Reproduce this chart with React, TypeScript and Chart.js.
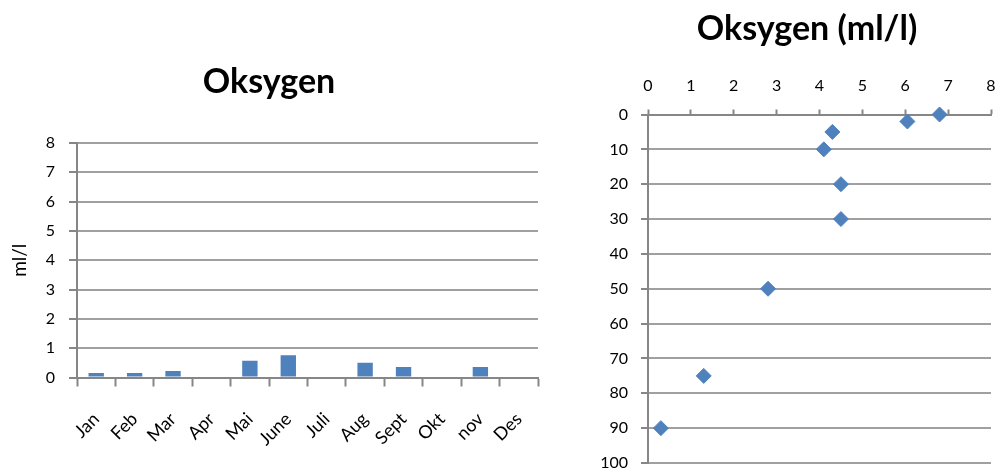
import React, { useEffect, useRef } from 'react';
import { Chart, registerables } from 'chart.js';

Chart.register(...registerables);

// ---- data ----
const months = ['Jan', 'Feb', 'Mar', 'Apr', 'Mai', 'June', 'Juli', 'Aug', 'Sept', 'Okt', 'nov', 'Des'];
const monthlyOxygen: (number | null)[] = [0.15, 0.15, 0.22, null, 0.57, 0.76, null, 0.5, 0.36, null, 0.36, null];
const oxygenAtDepth = [6.8, 6.05, 4.3, 4.1, 4.5, 4.5, 2.8, 1.3, 0.3];
const depths = [0, 2, 5, 10, 20, 30, 50, 75, 90];
const leftTitle = 'Oksygen';
const rightTitle = 'Oksygen (ml/l)';
const leftAxisTitle = 'ml/l';

const BLUE = '#4F81BD';
const GRID = '#a0a0a0';
const AXIS = '#868686';
const FONT = 'Lato, "Open Sans", sans-serif';

const makeTitlePlugin = (text: string, cx: number, baseline: number) => ({
  id: 'customTitle',
  afterDraw(chart: any) {
    const ctx = chart.ctx as CanvasRenderingContext2D;
    ctx.save();
    ctx.font = `bold 34px ${FONT}`;
    ctx.fillStyle = '#000';
    ctx.textAlign = 'center';
    ctx.textBaseline = 'alphabetic';
    ctx.fillText(text, cx, baseline);
    ctx.restore();
  },
});

export default function App() {
  const leftRef = useRef<HTMLCanvasElement | null>(null);
  const rightRef = useRef<HTMLCanvasElement | null>(null);

  useEffect(() => {
    const tickFont = { family: FONT, size: 16 };
    const monthFont = { family: FONT, size: 18 };
    const axisTitleFont = { family: FONT, size: 19 };

    const left = new Chart(leftRef.current!, {
      type: 'bar',
      data: {
        labels: months,
        datasets: [
          {
            data: monthlyOxygen,
            backgroundColor: BLUE,
            borderWidth: 0,
            categoryPercentage: 1,
            barPercentage: 0.4,
          },
        ],
      },
      plugins: [makeTitlePlugin(leftTitle, 269, 93)],
      options: {
        responsive: false,
        animation: false,
        layout: { padding: { left: 0, right: 2, top: 143, bottom: 0 } },
        plugins: {
          legend: { display: false },
          tooltip: { enabled: false },
          title: { display: false },
        },
        scales: {
          x: {
            grid: {
              display: true,
              drawOnChartArea: false,
              drawTicks: true,
              tickLength: 9,
              tickColor: AXIS,
              tickWidth: 2,
              offset: true,
            },
            border: { color: AXIS, width: 2 },
            ticks: {
              color: '#000',
              font: monthFont,
              maxRotation: 45,
              minRotation: 45,
              padding: 22,
              autoSkip: false,
            },
            afterFit: (s: any) => {
              s.height = 97.5;
              s.paddingLeft = 0;
              s.paddingRight = 0;
            },
          },
          y: {
            min: 0,
            max: 8,
            ticks: { stepSize: 1, color: '#000', font: tickFont, padding: 14 },
            grid: { color: GRID, lineWidth: 2, tickLength: 8, tickColor: AXIS, tickWidth: 2 },
            border: { color: AXIS, width: 2 },
            title: {
              display: true,
              text: leftAxisTitle,
              color: '#000',
              font: axisTitleFont,
              padding: { top: 8, bottom: 0 },
            },
            afterFit: (s: any) => {
              s.width = 77;
              s.paddingTop = 0;
              s.paddingBottom = 0;
            },
          },
        },
      },
    });

    const right = new Chart(rightRef.current!, {
      type: 'scatter',
      data: {
        datasets: [
          {
            data: depths.map((d, i) => ({ x: oxygenAtDepth[i], y: d })),
            backgroundColor: BLUE,
            borderColor: BLUE,
            borderWidth: 1,
            pointStyle: 'rectRot',
            pointRadius: 7.5,
            clip: false,
          } as any,
        ],
      },
      plugins: [makeTitlePlugin(rightTitle, 227, 40)],
      options: {
        responsive: false,
        animation: false,
        layout: { padding: { left: 0, right: 9, top: 49, bottom: 12 } },
        plugins: {
          legend: { display: false },
          tooltip: { enabled: false },
          title: { display: false },
        },
        scales: {
          x: {
            type: 'linear',
            position: 'top',
            min: 0,
            max: 8,
            ticks: { stepSize: 1, color: '#000', font: tickFont, padding: 14 },
            grid: { drawOnChartArea: false, tickLength: 5, tickColor: AXIS, tickWidth: 2 },
            border: { color: AXIS, width: 2 },
            afterFit: (s: any) => {
              s.height = 65.5;
              s.paddingLeft = 0;
              s.paddingRight = 0;
            },
          },
          y: {
            type: 'linear',
            reverse: true,
            min: 0,
            max: 100,
            ticks: { stepSize: 10, color: '#000', font: tickFont, padding: 13 },
            grid: { color: GRID, lineWidth: 2, tickLength: 7, tickColor: AXIS, tickWidth: 2 },
            border: { color: AXIS, width: 2 },
            afterFit: (s: any) => {
              s.width = 68;
              s.paddingTop = 0;
              s.paddingBottom = 0;
            },
          },
        },
      },
    });

    return () => {
      left.destroy();
      right.destroy();
    };
  }, []);

  return (
    <div
      style={{
        position: 'fixed',
        left: 0,
        top: 0,
        width: 1000,
        height: 475,
        overflow: 'hidden',
        background: '#fff',
      }}
    >
      <div style={{ position: 'absolute', left: 0, top: 0, width: 540, height: 475 }}>
        <canvas ref={leftRef} width={540} height={475} style={{ display: 'block' }} />
      </div>
      <div style={{ position: 'absolute', left: 580, top: 0, width: 420, height: 475 }}>
        <canvas ref={rightRef} width={420} height={475} style={{ display: 'block' }} />
      </div>
    </div>
  );
}
